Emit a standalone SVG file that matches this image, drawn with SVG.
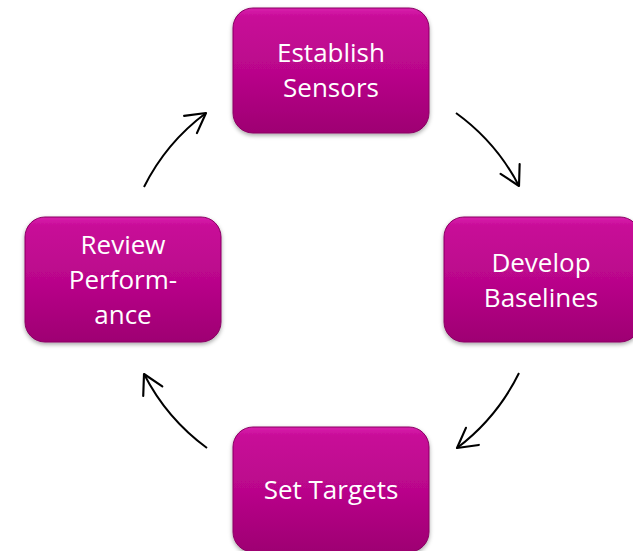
<svg xmlns="http://www.w3.org/2000/svg" width="633" height="551" viewBox="0 0 633 551">
<defs>
<linearGradient id="g" x1="0" y1="0" x2="0" y2="1">
<stop offset="0" stop-color="#d920ad"/>
<stop offset="0.07" stop-color="#c80c98"/>
<stop offset="0.5" stop-color="#ba068b"/>
<stop offset="1" stop-color="#9e0072"/>
</linearGradient>
<marker id="ah" markerUnits="userSpaceOnUse" markerWidth="30" markerHeight="30" refX="0" refY="0" viewBox="-22 -14 26 28" orient="auto">
<path d="M-18,-10 L0,0 L-18,10" fill="none" stroke="#000" stroke-width="2" stroke-linecap="round" stroke-linejoin="round"/>
</marker>
<filter id="sh" x="-10%" y="-10%" width="120%" height="130%">
<feDropShadow dx="0" dy="2" stdDeviation="2" flood-color="#000" flood-opacity="0.35"/>
</filter>
</defs>
<style>
.box{fill:url(#g);stroke:#8a0063;stroke-width:1;filter:url(#sh)}
.t{font-family:"Open Sans","Liberation Sans",Arial,sans-serif;font-size:26px;fill:#fff;text-anchor:middle}
.c{fill:none;stroke:#000;stroke-width:2;marker-end:url(#ah)}
</style>
<g id="connectors">
<path class="c" d="M144,187 A208,208 0 0 1 206,113"/>
<path class="c" d="M456,113 A208,208 0 0 1 519,186"/>
<path class="c" d="M519,373 A210,210 0 0 1 457,448"/>
<path class="c" d="M207,448 A210,210 0 0 1 144,374"/>
</g>
<g id="establish">
<rect class="box" x="233" y="8" width="196" height="125" rx="20"/>
<text class="t" x="331" y="62">Establish</text>
<text class="t" x="331" y="97">Sensors</text>
</g>
<g id="develop">
<rect class="box" x="444" y="217" width="196" height="125" rx="20"/>
<text class="t" x="541" y="272">Develop</text>
<text class="t" x="541" y="307">Baselines</text>
</g>
<g id="targets">
<rect class="box" x="233" y="427" width="196" height="125" rx="20"/>
<text class="t" x="331" y="499">Set Targets</text>
</g>
<g id="review">
<rect class="box" x="25" y="217" width="196" height="125" rx="20"/>
<text class="t" x="123" y="254">Review</text>
<text class="t" x="123" y="289">Perform-</text>
<text class="t" x="123" y="324">ance</text>
</g>
</svg>
